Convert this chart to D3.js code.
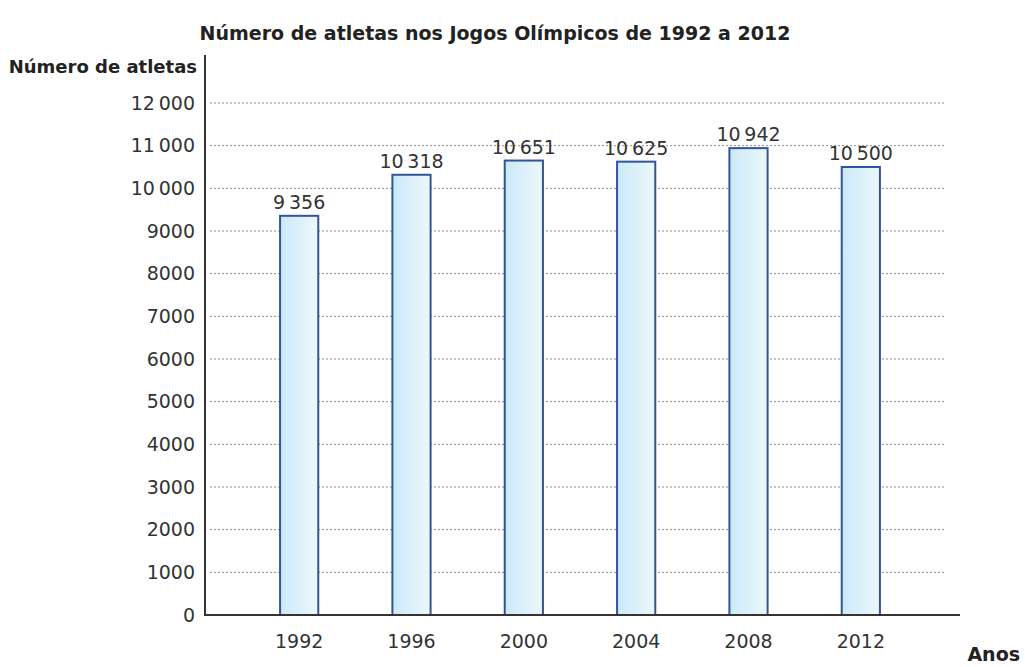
<!DOCTYPE html>
<html>
<head>
<meta charset="utf-8">
<script src="https://cdn.jsdelivr.net/npm/d3@7"></script>
<style>
  body { margin: 0; background: #fff; }
  text { font-family: "DejaVu Sans", "Open Sans", sans-serif; }
</style>
</head>
<body>
<div id="chart-area"></div>
<script>
var years = ["1992", "1996", "2000", "2004", "2008", "2012"];
var athletes = [9356, 10318, 10651, 10625, 10942, 10500];
var tickValues = [0, 1000, 2000, 3000, 4000, 5000, 6000, 7000, 8000, 9000, 10000, 11000, 12000];
var tickLabels = ["0", "1000", "2000", "3000", "4000", "5000", "6000", "7000", "8000", "9000", "10\u2009000", "11\u2009000", "12\u2009000"];

var svg = d3.select("#chart-area").append("svg")
    .attr("width", 1025)
    .attr("height", 667);

// gradiente das barras
var defs = svg.append("defs");
var grad = defs.append("linearGradient")
    .attr("id", "bar-grad")
    .attr("x1", "0%").attr("y1", "0%")
    .attr("x2", "100%").attr("y2", "0%");
grad.append("stop").attr("offset", "0%").attr("stop-color", "#cbe9f8");
grad.append("stop").attr("offset", "100%").attr("stop-color", "#ecf8fd");

var y = d3.scaleLinear()
    .domain([0, 12000])
    .range([615, 103]);

var x = d3.scaleBand()
    .domain(years)
    .range([243, 917])
    .paddingInner(0.66)
    .paddingOuter(0.33);

// linhas de grelha pontilhadas
svg.selectAll("line.grid")
    .data(tickValues.filter(d => d > 0))
    .enter()
    .append("line")
    .attr("class", "grid")
    .attr("x1", 210)
    .attr("x2", 945)
    .attr("y1", d => y(d))
    .attr("y2", d => y(d))
    .attr("stroke", "#8a8a8a")
    .attr("stroke-width", 1)
    .attr("stroke-dasharray", "2,2");

// barras
svg.selectAll("rect.bar")
    .data(athletes)
    .enter()
    .append("rect")
    .attr("class", "bar")
    .attr("x", (d, i) => x(years[i]))
    .attr("y", d => y(d))
    .attr("width", x.bandwidth())
    .attr("height", d => y(0) - y(d))
    .attr("fill", "url(#bar-grad)")
    .attr("stroke", "#34549a")
    .attr("stroke-width", 2);

// valores
var fmt = d3.formatLocale({ decimal: ",", thousands: "\u2009", grouping: [3], currency: ["", "€"] }).format(",d");
svg.selectAll("text.val")
    .data(athletes)
    .enter()
    .append("text")
    .attr("class", "val")
    .attr("x", (d, i) => x(years[i]) + x.bandwidth() / 2)
    .attr("y", d => y(d) - 7)
    .attr("text-anchor", "middle")
    .attr("font-size", "19px")
    .attr("fill", "#333")
    .text(d => fmt(d));

// eixo Y
var yAxis = d3.axisLeft(y)
    .tickValues(tickValues)
    .tickFormat((d, i) => tickLabels[i])
    .tickSize(0)
    .tickPadding(10);
var gy = svg.append("g")
    .attr("transform", "translate(205,0)")
    .call(yAxis);
gy.select(".domain").remove();
gy.selectAll("text")
    .attr("font-size", "19px")
    .attr("fill", "#333")
    .style("font-family", "'DejaVu Sans', sans-serif");

svg.append("line")
    .attr("x1", 205).attr("x2", 205)
    .attr("y1", 55).attr("y2", y(0) + 1)
    .attr("stroke", "#333")
    .attr("stroke-width", 2);

// eixo X
var xAxis = d3.axisBottom(x).tickSize(0).tickPadding(20);
var gx = svg.append("g")
    .attr("transform", "translate(0," + y(0) + ")")
    .call(xAxis);
gx.select(".domain").remove();
gx.selectAll("text")
    .attr("font-size", "19px")
    .attr("fill", "#333")
    .style("font-family", "'DejaVu Sans', sans-serif");

svg.append("line")
    .attr("x1", 204).attr("x2", 960)
    .attr("y1", y(0)).attr("y2", y(0))
    .attr("stroke", "#333")
    .attr("stroke-width", 2);

// títulos
svg.append("text")
    .attr("x", 495)
    .attr("y", 40)
    .attr("text-anchor", "middle")
    .attr("font-size", "19px")
    .attr("font-weight", "bold")
    .attr("fill", "#222")
    .text("Número de atletas nos Jogos Olímpicos de 1992 a 2012");

svg.append("text")
    .attr("x", 197)
    .attr("y", 73)
    .attr("text-anchor", "end")
    .attr("font-size", "18px")
    .attr("font-weight", "bold")
    .attr("fill", "#222")
    .text("Número de atletas");

svg.append("text")
    .attr("x", 1020)
    .attr("y", 661)
    .attr("text-anchor", "end")
    .attr("font-size", "19px")
    .attr("font-weight", "bold")
    .attr("fill", "#222")
    .text("Anos");
</script>
</body>
</html>
